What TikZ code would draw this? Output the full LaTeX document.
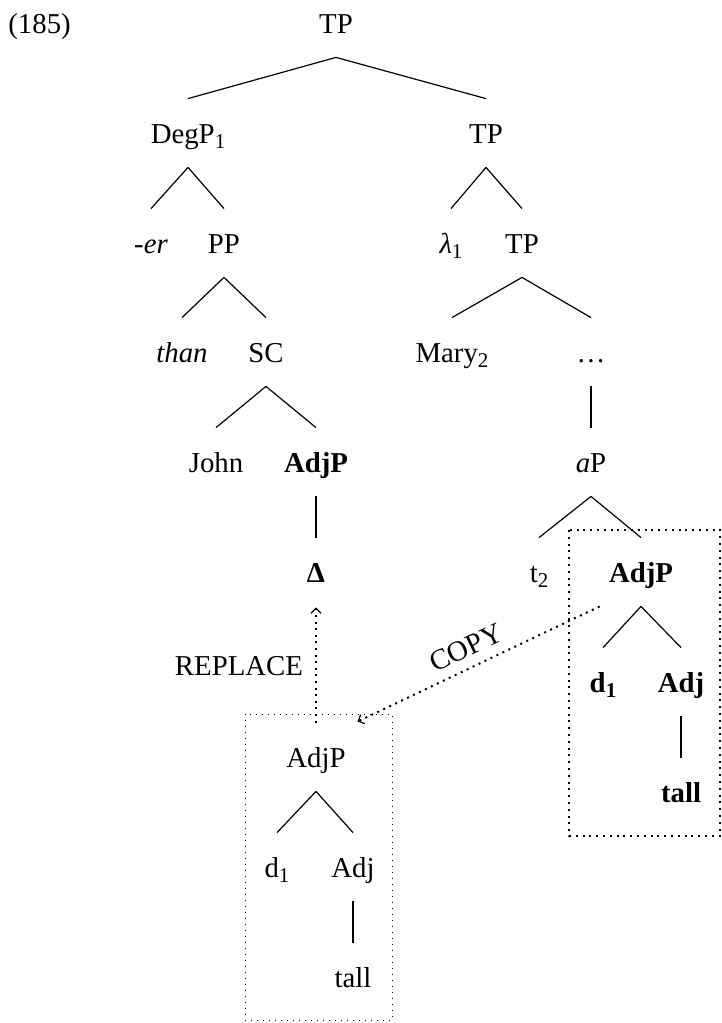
\documentclass[tikz,border=0pt]{standalone}
\usepackage{fontspec}
\setmainfont{Liberation Serif}
\usetikzlibrary{arrows.meta}
\newcommand{\sbx}[1]{\raisebox{-2.5pt}{\fontsize{10.5}{10.5}\selectfont #1}}
\newcommand{\tedge}[2]{\draw[br] ([yshift=-12pt]#1.south) -- ([yshift=11.5pt]#2.north);}
\begin{document}
\begin{tikzpicture}[x=0.5pt,y=-0.5pt,
  every node/.style={font=\fontsize{14.4}{17}\selectfont},
  tn/.style={anchor=base,inner sep=0pt,text height=10.5pt,text depth=0pt},
  br/.style={line width=0.6pt},
  boxL/.style={line width=0.5pt,dash pattern=on 0.5pt off 2.5pt},
  boxR/.style={line width=1pt,dash pattern=on 1pt off 2.4pt},
  arr/.style={line width=1pt,dash pattern=on 1pt off 2.3pt,
    -{Straight Barb[length=2.5pt,width=5pt,line width=0.6pt]}}]
\useasboundingbox (0,0) rectangle (722,1023);
% numbering
\node[tn,anchor=base west] (num) at (8,33) {(185)};
% main tree
\node[tn] (tp0) at (336,33) {TP};
\node[tn] (deg) at (188,143) {DegP\sbx{1}};
\node[tn] (tp1) at (486,143) {TP};
\node[tn] (er) at (151,253) {\itshape -er};
\node[tn] (pp) at (224,253) {PP};
\node[tn] (lam) at (451,253) {\itshape λ\sbx{\upshape 1}};
\node[tn] (tp2) at (522,253) {TP};
\node[tn] (than) at (182,362) {\itshape than};
\node[tn] (sc) at (266,362) {SC};
\node[tn] (mary) at (452,362) {Mary\sbx{2}};
\node[tn] (dots) at (591,362) {\ldots};
\node[tn] (john) at (216,472) {John};
\node[tn] (adjA) at (316,472) {\bfseries AdjP};
\node[tn] (aP) at (591,472) {\textit{a}P};
\node[tn] (delta) at (316,582) {\bfseries Δ};
\node[tn] (t2) at (539,582) {t\sbx{2}};
\node[tn] (adjB) at (641,582) {\bfseries AdjP};
\node[tn] (dB) at (603,692) {\bfseries d\sbx{1}};
\node[tn] (adjjB) at (681,692) {\bfseries Adj};
\node[tn] (tallB) at (681,802) {\bfseries tall};
% copied subtree
\node[tn] (adjC) at (316,767) {AdjP};
\node[tn] (dC) at (277,877) {d\sbx{1}};
\node[tn] (adjjC) at (353,877) {Adj};
\node[tn] (tallC) at (353,987) {tall};
% branches
\tedge{tp0}{deg}
\tedge{tp0}{tp1}
\tedge{deg}{er}
\tedge{deg}{pp}
\tedge{tp1}{lam}
\tedge{tp1}{tp2}
\tedge{pp}{than}
\tedge{pp}{sc}
\tedge{tp2}{mary}
\tedge{tp2}{dots}
\tedge{sc}{john}
\tedge{sc}{adjA}
\tedge{dots}{aP}
\tedge{adjA}{delta}
\tedge{aP}{t2}
\tedge{aP}{adjB}
\tedge{adjB}{dB}
\tedge{adjB}{adjjB}
\tedge{adjjB}{tallB}
\tedge{adjC}{dC}
\tedge{adjC}{adjjC}
\tedge{adjjC}{tallC}
% boxes
\draw[boxL] (245,714) rectangle (392,1020);
\draw[boxR] (569,530) rectangle (720,836);
% arrows
\draw[arr] ([yshift=11.5pt]adjC.north) -- node[midway,left,inner sep=6pt,text height=10.5pt,text depth=0pt] (rep) {REPLACE} ([yshift=-12.5pt]delta.south);
\draw[arr] ([xshift=-4.5pt,yshift=-12pt]adjB.south west) -- node[pos=0.515,sloped,above,inner sep=5pt,text height=10.5pt,text depth=0pt] (copy) {COPY} ([xshift=5.75pt,yshift=12pt]adjC.north east);
\end{tikzpicture}
\end{document}
